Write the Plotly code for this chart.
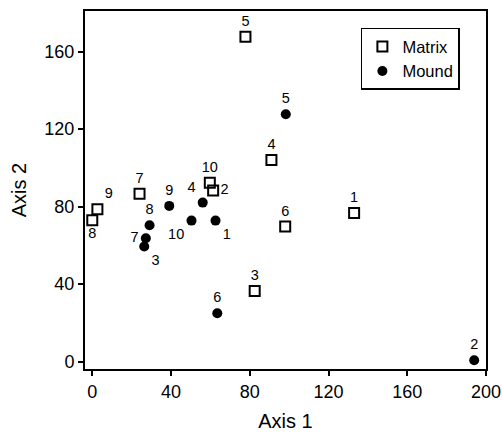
import plotly.graph_objects as go

labels = ["1", "2", "3", "4", "5", "6", "7", "8", "9", "10"]

matrix_x = [133, 61.4, 82.5, 91, 77.8, 98, 24, 0, 2.6, 59.7]
matrix_y = [76.7, 88.3, 36.5, 104.1, 167.7, 69.7, 86.7, 73, 78.7, 92.4]

mound_x = [62.6, 194, 26.4, 56.1, 98.3, 63.5, 27.2, 29.1, 39.1, 50.4]
mound_y = [72.8, 0.7, 59.4, 82.1, 127.7, 25, 63.7, 70.4, 80.4, 72.8]

x_ticks = [0, 40, 80, 120, 160, 200]
y_ticks = [0, 40, 80, 120, 160]

matrix_pos = ["top center", "middle right", "top center", "top center", "top center",
              "top center", "top center", "bottom center", "top right", "top center"]
mound_pos = ["bottom right", "top center", "bottom right", "top left", "top center",
             "top center", "middle left", "top center", "top center", "bottom left"]

lab_font = dict(family="Liberation Sans, Arial", size=14.5, color="black")

fig = go.Figure()
fig.add_trace(go.Scatter(
    x=matrix_x, y=matrix_y, mode="markers+text", name="Matrix",
    text=labels, textposition=matrix_pos, textfont=lab_font,
    marker=dict(symbol="square-open", size=10, color="black", line=dict(width=2)),
))
fig.add_trace(go.Scatter(
    x=mound_x, y=mound_y, mode="markers+text", name="Mound",
    text=labels, textposition=mound_pos, textfont=lab_font,
    marker=dict(symbol="circle", size=10, color="black"),
))

axis_common = dict(
    showline=True, linecolor="black", linewidth=2, mirror=True,
    ticks="outside", ticklen=5, tickwidth=1.5, tickcolor="black",
    showgrid=False, zeroline=False, automargin=False,
    tickfont=dict(family="Liberation Sans, Arial", size=18, color="black"),
)
fig.update_layout(
    width=502, height=432,
    margin=dict(l=85, r=16, t=11, b=63),
    plot_bgcolor="white", paper_bgcolor="white",
    font=dict(family="Liberation Sans, Arial", color="black"),
    xaxis=dict(range=[-3.7, 200], tickvals=x_ticks,
               title=dict(text="Axis 1", font=dict(size=20), standoff=16), **axis_common),
    yaxis=dict(range=[-3.8, 181], tickvals=y_ticks,
               title=dict(text="Axis 2", font=dict(size=20), standoff=12), **axis_common),
    legend=dict(x=0.688, y=0.953, xanchor="left", yanchor="top",
                bordercolor="black", borderwidth=1.5, bgcolor="white",
                font=dict(size=16.5), itemwidth=30, tracegroupgap=0),
    showlegend=True,
)
fig.write_html(
    "out.html",
    config={"displayModeBar": False},
    post_script="document.documentElement.style.margin='0';document.documentElement.style.padding='0';"
                "document.body.style.margin='0';document.body.style.padding='0';"
                "document.body.style.overflow='hidden';",
)
